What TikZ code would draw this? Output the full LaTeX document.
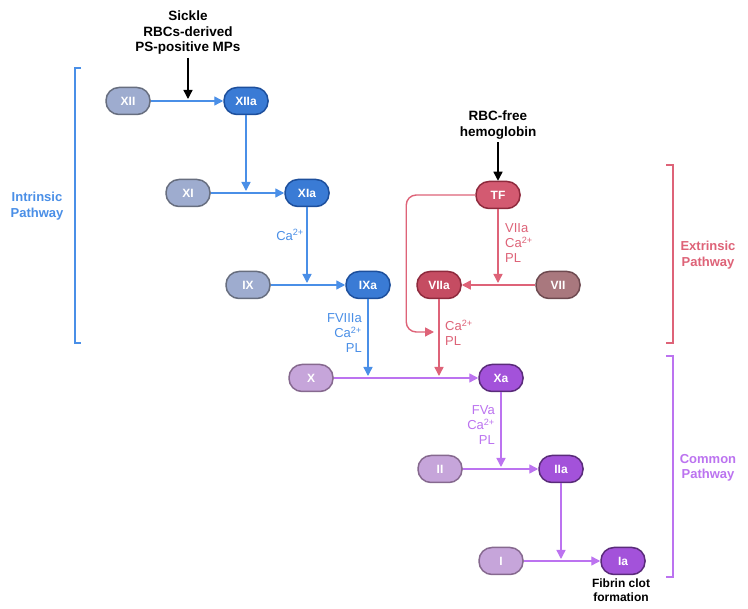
\documentclass[tikz,border=0pt]{standalone}
\usepackage{fontspec}
\setmainfont{Liberation Sans}
\usetikzlibrary{arrows.meta}
\definecolor{bline}{HTML}{4A8FE7}
\definecolor{bact}{HTML}{3A7BD5}
\definecolor{bactd}{HTML}{1D4F9C}
\definecolor{binf}{HTML}{9EACCF}
\definecolor{binfd}{HTML}{676E7F}
\definecolor{rline}{HTML}{DE6378}
\definecolor{rtf}{HTML}{D35A71}
\definecolor{ract}{HTML}{C54C62}
\definecolor{ractd}{HTML}{8E2A3D}
\definecolor{rinf}{HTML}{A9787E}
\definecolor{rinfd}{HTML}{6E4A50}
\definecolor{pline}{HTML}{BC73F0}
\definecolor{pact}{HTML}{A352DA}
\definecolor{pactd}{HTML}{5A2B7A}
\definecolor{pinf}{HTML}{C6A5DA}
\definecolor{pinfd}{HTML}{86698F}
\tikzset{
  fac/.style={rounded corners=13pt, minimum width=44pt, minimum height=27pt, line width=1.5pt, text=white, font=\bfseries\fontsize{12}{14}\selectfont, inner sep=0pt},
  bin/.style={fac, fill=binf, draw=binfd},
  bac/.style={fac, fill=bact, draw=bactd},
  rtfs/.style={fac, fill=rtf, draw=ractd},
  rac/.style={fac, fill=ract, draw=ractd},
  rin/.style={fac, fill=rinf, draw=rinfd},
  pin/.style={fac, fill=pinf, draw=pinfd},
  pac/.style={fac, fill=pact, draw=pactd},
  arr/.style={line width=1.4pt, -{Triangle[length=9pt,width=9pt]}},
  barr/.style={arr, draw=bline},
  rarr/.style={arr, draw=rline},
  parr/.style={arr, draw=pline},
  karr/.style={arr, draw=black},
  blk/.style={align=center, font=\bfseries\fontsize{13.5}{15.5}\selectfont, inner sep=0pt},
  lab/.style={font=\fontsize{13}{15}\selectfont, inner sep=0pt},
  plab/.style={align=center, font=\bfseries\fontsize{13}{15.5}\selectfont, inner sep=0pt},
  brk/.style={line width=1.5pt}
}
\begin{document}
\begin{tikzpicture}[x=1pt,y=-1pt]
\useasboundingbox[fill=white] (0,0) rectangle (748,609);
% nodes
\node[bin] (XII) at (128,101) {XII};
\node[bac] (XIIa) at (246,101) {XIIa};
\node[bin] (XI) at (188,193) {XI};
\node[bac] (XIa) at (307,193) {XIa};
\node[bin] (IX) at (248,285) {IX};
\node[bac] (IXa) at (368,285) {IXa};
\node[rtfs] (TF) at (498,195) {TF};
\node[rac] (VIIa) at (439,285) {VIIa};
\node[rin] (VII) at (558,285) {VII};
\node[pin] (X) at (311,378) {X};
\node[pac] (Xa) at (501,378) {Xa};
\node[pin] (II) at (440,469) {II};
\node[pac] (IIa) at (561,469) {IIa};
\node[pin] (I) at (501,561) {I};
\node[pac] (Ia) at (623,561) {Ia};
% texts
\node[blk] (sickle) at (188,33) {Sickle\\RBCs-derived\\PS-positive MPs};
\node[blk] (rbc) at (498,125) {RBC-free\\hemoglobin};
\node[blk, anchor=north, font=\bfseries\fontsize{12}{14}\selectfont] (fib) at (621,579) {Fibrin clot\\formation};
\node[lab, text=bline] (ca1) at (290,235) {Ca\textsuperscript{2+}};
\node[lab, text=bline, align=right, anchor=east] (fviii) at (362,333) {FVIIIa\\Ca\textsuperscript{2+}\\PL};
\node[lab, text=rline, align=left, anchor=west] (viila) at (505,243) {VIIa\\Ca\textsuperscript{2+}\\PL};
\node[lab, text=rline, align=left, anchor=west] (capl) at (445,333) {Ca\textsuperscript{2+}\\PL};
\node[lab, text=pline, align=right, anchor=east] (fva) at (495,425) {FVa\\Ca\textsuperscript{2+}\\PL};
\node[plab, text=bline] (intr) at (37,206) {Intrinsic\\Pathway};
\node[plab, text=rline] (extr) at (708,255) {Extrinsic\\Pathway};
\node[plab, text=pline] (comm) at (708,468) {Common\\Pathway};
% join points
\coordinate (j1) at (188,99);
\coordinate (j2) at (246,191);
\coordinate (j3) at (307,283);
\coordinate (j4) at (368,376);
\coordinate (j5) at (498,283);
\coordinate (j6) at (439,376);
\coordinate (j7) at (434,332);
\coordinate (j8) at (501,467);
\coordinate (j9) at (561,559);
% intrinsic
\draw[barr] (XII) -- (XIIa);
\draw[karr] (sickle.south) ++(0,3) -- (j1);
\draw[barr] (XIIa) -- (j2);
\draw[barr] (XI) -- (XIa);
\draw[barr] (XIa) -- (j3);
\draw[barr] (IX) -- (IXa);
\draw[barr] (IXa) -- (j4);
% extrinsic
\draw[karr] (rbc.south) ++(0,3) -- (TF);
\draw[rarr] (TF) -- (j5);
\draw[rarr] (VII) -- (VIIa);
\draw[rarr] (VIIa) -- (j6);
\draw[rarr, rounded corners=10pt] (TF.west) -- ++(-69,0) |- (j7);
% common
\draw[parr] (X) -- (Xa);
\draw[parr] (Xa) -- (j8);
\draw[parr] (II) -- (IIa);
\draw[parr] (IIa) -- (j9);
\draw[parr] (I) -- (Ia);
% brackets
\draw[brk, draw=bline] (81,68) -- (75,68) -- (75,343) -- (81,343);
\draw[brk, draw=rline] (666,165) -- (673,165) -- (673,343) -- (666,343);
\draw[brk, draw=pline] (666,356) -- (673,356) -- (673,577) -- (666,577);
\end{tikzpicture}
\end{document}
